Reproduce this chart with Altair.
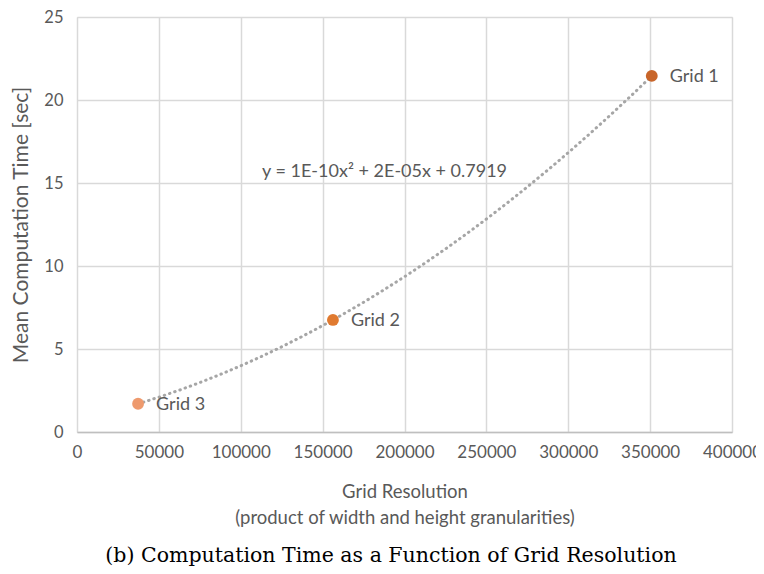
import altair as alt
import pandas as pd

# Data
grids = ["Grid 1", "Grid 2", "Grid 3"]
resolution = [351000, 156300, 37300]
mean_time = [21.45, 6.75, 1.70]
colors = ["#C8652A", "#E07A30", "#EE9A6E"]

equation_text = ["y = 1E-10x\u00b2 + 2E-05x + 0.7919"]
equation_x = [113000]
equation_y = [15.65]

caption = "(b) Computation Time as a Function of Grid Resolution"

df = pd.DataFrame({"grid": grids, "x": resolution, "y": mean_time, "color": colors})
eq_df = pd.DataFrame({"text": equation_text, "x": equation_x, "y": equation_y})

FONT = "Lato"
GREY = "#595959"

xscale = alt.Scale(domain=[0, 400000], nice=False, zero=True)
yscale = alt.Scale(domain=[0, 25], nice=False)

xax = alt.Axis(
    values=list(range(0, 400001, 50000)),
    format="d",
    title=["Grid Resolution", "(product of width and height granularities)"],
    titleFont=FONT, titleFontSize=18.5, titleFontWeight="normal", titleColor=GREY,
    titlePadding=22, titleLineHeight=26,
    labelFont=FONT, labelFontSize=17, labelColor=GREY, labelPadding=12,
    labelOverlap=False, labelFlush=False,
    ticks=False, domainColor="#BFBFBF", domainWidth=1.5,
    grid=True, gridColor="#D9D9D9", gridWidth=1.5,
)
yax = alt.Axis(
    values=[0, 5, 10, 15, 20, 25],
    title="Mean Computation Time [sec]",
    titleFont=FONT, titleFontSize=21, titleFontWeight="normal", titleColor=GREY,
    titlePadding=12,
    labelFont=FONT, labelFontSize=16.5, labelColor=GREY, labelPadding=14,
    ticks=False, domain=False,
    grid=True, gridColor="#D9D9D9", gridWidth=1.5,
)

base = alt.Chart(df)

trend = base.transform_regression("x", "y", method="poly", order=2).mark_line(
    color="#A6A6A6", strokeDash=[0.5, 5], strokeWidth=3, strokeCap="round"
).encode(
    x=alt.X("x:Q", scale=xscale, axis=xax),
    y=alt.Y("y:Q", scale=yscale, axis=yax),
)

points = base.mark_point(filled=True, size=140, opacity=1).encode(
    x=alt.X("x:Q", scale=xscale),
    y=alt.Y("y:Q", scale=yscale),
    color=alt.Color("color:N", scale=None),
)

labels = base.mark_text(
    align="left", baseline="middle", dx=18, dy=1, font=FONT, fontSize=18, color=GREY
).encode(
    x=alt.X("x:Q", scale=xscale),
    y=alt.Y("y:Q", scale=yscale),
    text="grid:N",
)

eq = alt.Chart(eq_df).mark_text(
    align="left", baseline="middle", font=FONT, fontSize=18, color=GREY
).encode(
    x=alt.X("x:Q", scale=xscale),
    y=alt.Y("y:Q", scale=yscale),
    text="text:N",
)

cap = alt.Chart(pd.DataFrame({"t": [caption]})).mark_text(
    align="center", baseline="alphabetic", font="DejaVu Serif", fontSize=20.5, color="#000000"
).encode(
    x=alt.value(314), y=alt.value(545), text="t:N"
)

chart = alt.layer(trend, points, labels, eq, cap).properties(
    width=655, height=415,
    autosize=alt.AutoSizeParams(type="none"),
    padding={"left": 69, "top": 9, "right": 24, "bottom": 134},
).configure_view(stroke=None).configure(background="white")

chart.save("out.html", embed_options={"renderer": "svg", "actions": False})
